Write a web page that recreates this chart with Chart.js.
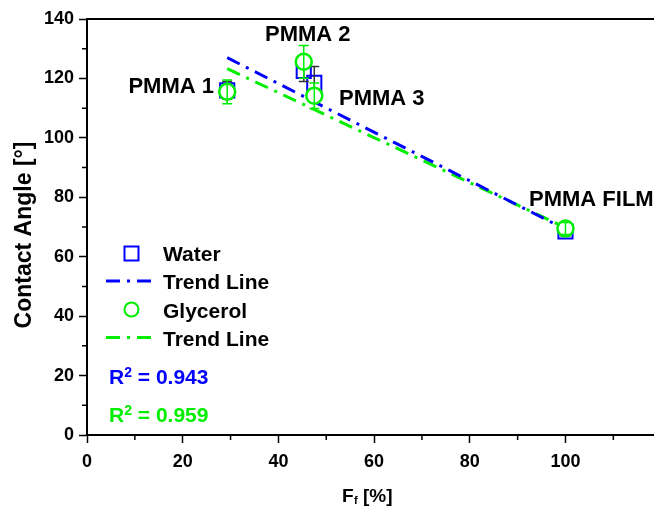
<!DOCTYPE html>
<html>
<head>
<meta charset="utf-8">
<script src="https://cdn.jsdelivr.net/npm/chart.js@4.4.1/dist/chart.umd.min.js"></script>
<style>
  body { margin: 0; background: #fff; }
</style>
</head>
<body>
<canvas id="myChart" width="654" height="506"></canvas>
<script>
// Data
const fillFactor = [29.3, 45.3, 47.5, 100];          // Ff [%]
const sampleNames = ['PMMA 1', 'PMMA 2', 'PMMA 3', 'PMMA FILM'];
const waterAngle = [116, 122.5, 118.5, 68.5];
const waterError = [3, 3.5, 5.5, 1.5];
const glycerolAngle = [115.5, 125.6, 114.2, 69.5];
const glycerolError = [4, 5.5, 4.3, 2];
const trendX = [29.3, 100];
const waterTrend = [127, 69.2];
const glycerolTrend = [123.3, 69.8];
const rSquared = ['0.943', '0.959'];
const xTicks = [0, 20, 40, 60, 80, 100];
const yTicks = [0, 20, 40, 60, 80, 100, 120, 140];
const xMinorTicks = [10, 30, 50, 70, 90, 110];
const yMinorTicks = [10, 30, 50, 70, 90, 110, 130];

const BLUE = '#0000ff';
const GREEN = '#00ee00';
const FONT = '"Liberation Sans", Arial, sans-serif';
const DASH = [14, 7, 3, 7];

function toPoints(xs, ys) {
    return xs.map((x, i) => ({ x: x, y: ys[i] }));
}

// error bars drawn right after their own dataset
const errorBars = {
    id: 'errorBars',
    afterDatasetDraw(chart, args) {
        const sets = { 0: [glycerolAngle, glycerolError, GREEN], 1: [waterAngle, waterError, '#333'] };
        const s = sets[args.index];
        if (!s) return;
        const ctx = chart.ctx, xs = chart.scales.x, ys = chart.scales.y;
        ctx.save();
        ctx.strokeStyle = s[2];
        ctx.lineWidth = 1.5;
        fillFactor.forEach((f, i) => {
            const px = xs.getPixelForValue(f);
            const top = ys.getPixelForValue(s[0][i] + s[1][i]);
            const bot = ys.getPixelForValue(s[0][i] - s[1][i]);
            ctx.beginPath();
            ctx.moveTo(px, top); ctx.lineTo(px, bot);
            ctx.moveTo(px - 5, top); ctx.lineTo(px + 5, top);
            ctx.moveTo(px - 5, bot); ctx.lineTo(px + 5, bot);
            ctx.stroke();
        });
        ctx.restore();
    }
};

// frame, minor ticks, titles, labels and the in-plot legend
const decorations = {
    id: 'decorations',
    afterDraw(chart) {
        const ctx = chart.ctx, a = chart.chartArea;
        const xs = chart.scales.x, ys = chart.scales.y;
        ctx.save();
        ctx.strokeStyle = '#000';
        ctx.lineWidth = 2;
        ctx.beginPath();
        ctx.moveTo(a.left - 1, a.top); ctx.lineTo(a.right, a.top);
        ctx.stroke();
        ctx.lineWidth = 1.5;
        ctx.beginPath();
        xMinorTicks.forEach(v => {
            const px = xs.getPixelForValue(v);
            ctx.moveTo(px, a.bottom); ctx.lineTo(px, a.bottom + 5);
        });
        yMinorTicks.forEach(v => {
            const py = ys.getPixelForValue(v);
            ctx.moveTo(a.left, py); ctx.lineTo(a.left - 5, py);
        });
        ctx.stroke();

        ctx.fillStyle = '#000';
        // x title: F with subscript f
        ctx.textBaseline = 'alphabetic';
        ctx.font = 'bold 19px ' + FONT;
        const wF = ctx.measureText('F').width;
        const wRest = ctx.measureText(' [%]').width;
        ctx.font = 'bold 11px ' + FONT;
        const wf = ctx.measureText('f').width;
        let tx = 367 - (wF + wf + wRest) / 2;
        ctx.font = 'bold 19px ' + FONT;
        ctx.fillText('F', tx, 501.5);
        ctx.font = 'bold 11px ' + FONT;
        ctx.fillText('f', tx + wF + 0.5, 504);
        ctx.font = 'bold 19px ' + FONT;
        ctx.fillText(' [%]', tx + wF + wf + 0.5, 501.5);

        // y title
        ctx.save();
        ctx.translate(31, 235);
        ctx.rotate(-Math.PI / 2);
        ctx.textAlign = 'center';
        ctx.font = 'bold 23px ' + FONT;
        ctx.fillText('Contact Angle [°]', 0, 0);
        ctx.restore();

        // sample labels
        ctx.font = 'bold 22px ' + FONT;
        ctx.textAlign = 'right';
        ctx.fillText(sampleNames[0], 214, 93);
        ctx.textAlign = 'left';
        ctx.fillText(sampleNames[1], 265, 41);
        ctx.fillText(sampleNames[2], 339, 105);
        ctx.fillText(sampleNames[3], 529, 206);

        // legend
        ctx.font = 'bold 21px ' + FONT;
        ctx.fillText('Water', 163, 260.5);
        ctx.fillText('Trend Line', 163, 289);
        ctx.fillText('Glycerol', 163, 317.5);
        ctx.fillText('Trend Line', 163, 345.5);
        ctx.strokeStyle = BLUE;
        ctx.lineWidth = 2;
        ctx.strokeRect(124.5, 246.5, 14, 14);
        ctx.strokeStyle = GREEN;
        ctx.beginPath();
        ctx.arc(131.5, 309.5, 7, 0, Math.PI * 2);
        ctx.stroke();
        ctx.lineWidth = 3;
        ctx.setLineDash(DASH);
        ctx.strokeStyle = BLUE;
        ctx.beginPath(); ctx.moveTo(106, 281); ctx.lineTo(152, 281); ctx.stroke();
        ctx.strokeStyle = GREEN;
        ctx.beginPath(); ctx.moveTo(106, 337.5); ctx.lineTo(152, 337.5); ctx.stroke();
        ctx.setLineDash([]);

        // R squared
        [[BLUE, 383.5, rSquared[0]], [GREEN, 421.5, rSquared[1]]].forEach(r => {
            ctx.fillStyle = r[0];
            ctx.font = 'bold 21px ' + FONT;
            ctx.fillText('R', 109, r[1]);
            const wR = ctx.measureText('R').width;
            ctx.font = 'bold 14px ' + FONT;
            ctx.fillText('2', 109 + wR, r[1] - 7);
            const w2 = ctx.measureText('2').width;
            ctx.font = 'bold 21px ' + FONT;
            ctx.fillText(' = ' + r[2], 109 + wR + w2, r[1]);
        });
        ctx.restore();
    }
};

const ctx = document.getElementById('myChart').getContext('2d');
const myChart = new Chart(ctx, {
    type: 'scatter',
    data: {
        datasets: [
            {
                label: 'Glycerol',
                data: toPoints(fillFactor, glycerolAngle),
                pointStyle: 'circle',
                pointRadius: 8,
                borderColor: GREEN,
                backgroundColor: '#fff',
                borderWidth: 2.5
            },
            {
                label: 'Water',
                data: toPoints(fillFactor, waterAngle),
                pointStyle: 'rect',
                pointRadius: 10,
                borderColor: BLUE,
                backgroundColor: 'rgba(0,0,0,0)',
                borderWidth: 2
            },
            {
                label: 'Trend Line',
                data: toPoints(trendX, waterTrend),
                showLine: true,
                pointRadius: 0,
                borderColor: BLUE,
                borderWidth: 3,
                borderDash: DASH
            },
            {
                label: 'Trend Line',
                data: toPoints(trendX, glycerolTrend),
                showLine: true,
                pointRadius: 0,
                borderColor: GREEN,
                borderWidth: 3,
                borderDash: DASH
            }
        ]
    },
    options: {
        responsive: false,
        animation: false,
        devicePixelRatio: 1,
        layout: { autoPadding: false, padding: { top: 19, right: 0, left: 0, bottom: 0 } },
        plugins: { legend: { display: false }, tooltip: { enabled: false } },
        scales: {
            x: {
                type: 'linear',
                min: 0,
                max: 118.5,
                afterBuildTicks: s => { s.ticks = xTicks.map(v => ({ value: v })); },
                afterFit: s => { s.height = 71; s.paddingRight = 0; s.paddingLeft = 0; },
                ticks: { color: '#000', font: { family: FONT, size: 18, weight: 'bold' }, padding: 8, maxRotation: 0, autoSkip: false },
                grid: { drawOnChartArea: false, tickLength: 8, tickWidth: 1.5, tickColor: '#000' },
                border: { color: '#000', width: 2 }
            },
            y: {
                type: 'linear',
                min: 0,
                max: 140,
                afterBuildTicks: s => { s.ticks = yTicks.map(v => ({ value: v })); },
                afterFit: s => { s.width = 87; s.paddingTop = 0; s.paddingBottom = 0; },
                ticks: { color: '#000', font: { family: FONT, size: 18, weight: 'bold' }, padding: 5, autoSkip: false },
                grid: { drawOnChartArea: false, tickLength: 8, tickWidth: 1.5, tickColor: '#000' },
                border: { color: '#000', width: 2 }
            }
        }
    },
    plugins: [errorBars, decorations]
});
</script>
</body>
</html>
